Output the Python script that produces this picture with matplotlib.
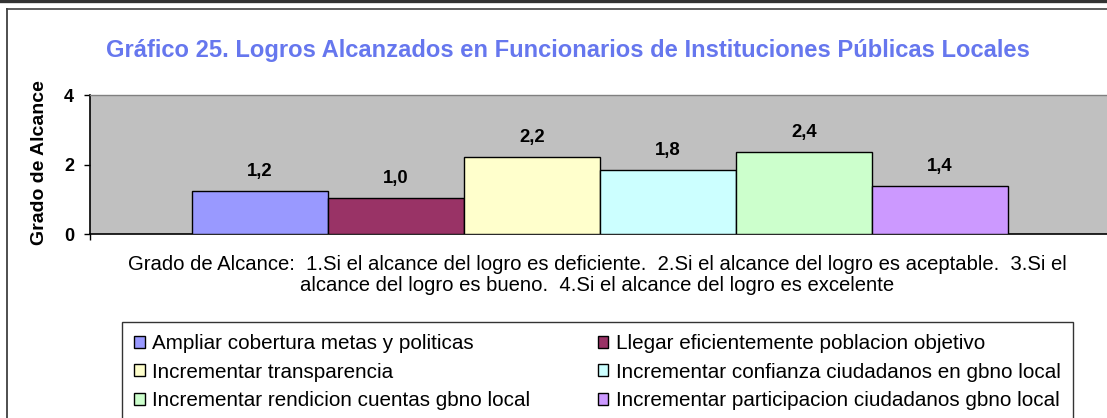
import matplotlib
matplotlib.use("Agg")
import matplotlib.pyplot as plt
from matplotlib.lines import Line2D

# data
series = [
    "Ampliar cobertura metas y politicas",
    "Llegar eficientemente poblacion objetivo",
    "Incrementar transparencia",
    "Incrementar confianza ciudadanos en gbno local",
    "Incrementar rendicion cuentas gbno local",
    "Incrementar participacion ciudadanos gbno local",
]
values = [1.23, 1.04, 2.22, 1.83, 2.36, 1.39]
colors = ["#9999FF", "#993366", "#FFFFCC", "#CCFFFF", "#CCFFCC", "#CC99FF"]
yticks = [0, 2, 4]

title = "Gráfico 25. Logros Alcanzados en Funcionarios de Instituciones Públicas Locales"
caption = ("Grado de Alcance:  1.Si el alcance del logro es deficiente.  "
           "2.Si el alcance del logro es aceptable.  3.Si el\n"
           "alcance del logro es bueno.  4.Si el alcance del logro es excelente")

plt.rcParams["font.family"] = ["Liberation Sans", "DejaVu Sans"]

W, H = 1107, 418
fig = plt.figure(figsize=(W / 100, H / 100), dpi=100)


def fx(px):
    return px / W


def fy(py):
    return 1 - py / H


# outer frame lines
fig.add_artist(Line2D([0, 1], [fy(1), fy(1)], color="#333333", lw=2.4))
fig.add_artist(Line2D([fx(7), 1.01], [fy(9), fy(9)], color="#505050", lw=1.3))
fig.add_artist(Line2D([fx(7), fx(7)], [fy(9), -0.01], color="#404040", lw=1.3))

ax = fig.add_axes([fx(90), fy(234), fx(1110) - fx(90), fy(95) - fy(234)])
ax.set_facecolor("#C0C0C0")

xs = range(len(values))
bars = ax.bar(xs, values, width=1.0, color=colors, edgecolor="black", linewidth=1.0,
              zorder=3)
for x, v in zip(xs, values):
    ax.annotate(f"{v:.1f}".replace(".", ","), (x, v), xytext=(0, 14),
                textcoords="offset points", ha="center", va="center",
                fontsize=13.3, fontweight="bold", color="black")

ax.set_xlim(-1.25, len(values) + 0.25)
ax.set_ylim(0, 4)
ax.set_yticks(yticks)
ax.set_yticklabels([str(t) for t in yticks], fontsize=13, fontweight="bold")
ax.set_xticks([-1.25, len(values) + 0.25])
ax.set_xticklabels(["", ""])
ax.tick_params(axis="y", direction="out", length=4.5, width=1.0, pad=7)
ax.tick_params(axis="x", direction="out", length=4.5, width=1.0)
for s in ["left", "bottom"]:
    ax.spines[s].set_color("black")
    ax.spines[s].set_linewidth(1.2)
ax.spines["top"].set_color("#808080")
ax.spines["top"].set_linewidth(1.0)
ax.spines["right"].set_visible(False)

fig.text(fx(568), fy(50), title, ha="center", va="center", fontsize=17.1,
         fontweight="bold", color="#6677EE")
fig.text(fx(40), fy(163), "Grado de Alcance", rotation=90, ha="center",
         va="center", fontsize=14, fontweight="bold")
fig.text(fx(597), fy(275), caption, ha="center", va="center", fontsize=14.6,
         linespacing=1.08, multialignment="center")

order = [0, 2, 4, 1, 3, 5]
leg = ax.legend([bars[i] for i in order], [series[i] for i in order], ncol=2,
                loc="upper left", mode="expand",
                bbox_to_anchor=(fx(122), 0, fx(1073) - fx(122), fy(322)),
                bbox_transform=fig.transFigure, fontsize=14.9, frameon=True,
                fancybox=False, edgecolor="black", handlelength=0.5,
                handleheight=0.5, handletextpad=0.35, borderpad=0.6,
                labelspacing=0.45, borderaxespad=0)
leg.get_frame().set_linewidth(1.0)

fig.savefig("out.png", dpi=100)
